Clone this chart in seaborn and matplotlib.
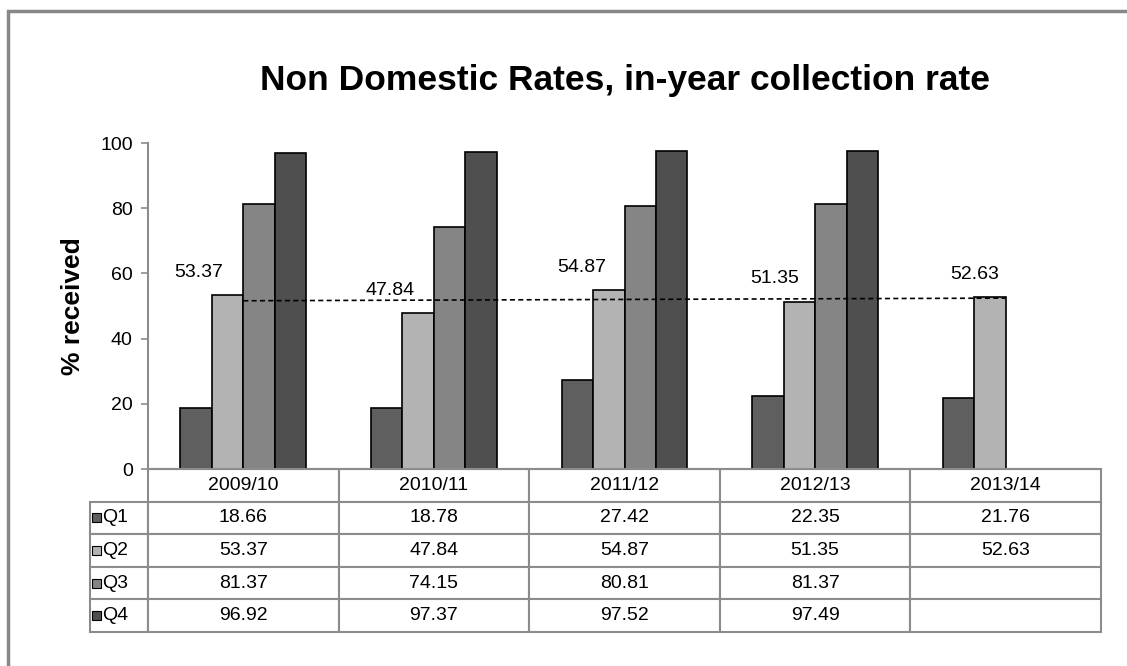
import numpy as np
import pandas as pd
import seaborn as sns
import matplotlib.pyplot as plt
from matplotlib.patches import Rectangle

# Datos del grafico
anios = ['2009/10', '2010/11', '2011/12', '2012/13', '2013/14']
trimestres = ['Q1', 'Q2', 'Q3', 'Q4']
q1 = [18.66, 18.78, 27.42, 22.35, 21.76]
q2 = [53.37, 47.84, 54.87, 51.35, 52.63]
q3 = [81.37, 74.15, 80.81, 81.37, np.nan]
q4 = [96.92, 97.37, 97.52, 97.49, np.nan]

colores = ['#5f5f5f', '#b3b3b3', '#858585', '#4f4f4f']
gris_linea = '#8c8c8c'

sns.set_theme(style='white')
plt.rcParams['font.family'] = ['Liberation Sans', 'DejaVu Sans']
plt.rcParams['text.color'] = 'black'
plt.rcParams['axes.labelcolor'] = 'black'
plt.rcParams['ytick.labelcolor'] = 'black'

# Armo el dataframe en formato largo para seaborn
filas = []
for serie, nombre in zip([q1, q2, q3, q4], trimestres):
    for anio, valor in zip(anios, serie):
        filas.append({'anio': anio, 'trimestre': nombre, 'valor': valor})
datos = pd.DataFrame(filas)

W, H = 1127, 666
fig = plt.figure(figsize=(W / 100, H / 100), dpi=100)
ax = fig.add_axes([148 / W, (H - 469) / H, 953 / W, 326 / H])

sns.barplot(data=datos, x='anio', y='valor', hue='trimestre', order=anios,
            hue_order=trimestres, palette=colores, width=0.66, errorbar=None,
            edgecolor='black', linewidth=1.2, saturation=1, legend=False, ax=ax)

ax.set_ylim(0, 100)
ax.set_xlim(-0.5, len(anios) - 0.5)
ax.set_yticks(range(0, 101, 20))
ax.tick_params(axis='y', labelsize=14, length=5, width=1.2, color=gris_linea,
               left=True, pad=6, labelcolor='black')
ax.tick_params(axis='x', bottom=False, labelbottom=False)
ax.set_xlabel('')
ax.set_ylabel('% received', fontsize=19, fontweight='bold', labelpad=11,
              color='black')
for lado in ['top', 'right']:
    ax.spines[lado].set_visible(False)
for lado in ['left', 'bottom']:
    ax.spines[lado].set_color(gris_linea)
    ax.spines[lado].set_linewidth(1.5)

# Linea de tendencia (lineal) sobre Q2
x_pos = np.arange(len(anios))
pendiente, intercepto = np.polyfit(x_pos + 1, q2, 1)
ax.plot(x_pos, pendiente * (x_pos + 1) + intercepto, color='black',
        linestyle=(0, (3, 2)), linewidth=1.2, zorder=5)

# Etiquetas de Q2
desplazamiento_x = [-0.15, -0.15, -0.14, -0.13, -0.08]
ancho_barra = 0.66 / 4
for i, valor in enumerate(q2):
    ax.text(i - ancho_barra / 2 + desplazamiento_x[i], valor + 7, f'{valor:.2f}',
            ha='center', va='center', fontsize=14, color='black')

ax.set_title('Non Domestic Rates, in-year collection rate', fontsize=25.5,
             fontweight='bold', pad=38, color='black')

# Tabla de datos debajo del grafico
def fmt(v):
    return '' if np.isnan(v) else f'{v:.2f}'

texto_celdas = [[''] + anios]
for nombre, serie in zip(trimestres, [q1, q2, q3, q4]):
    texto_celdas.append([nombre] + [fmt(v) for v in serie])

ancho_rotulo = 58 / 953
tabla = ax.table(cellText=texto_celdas, cellLoc='center',
                 colWidths=[ancho_rotulo] + [1 / len(anios)] * len(anios),
                 bbox=[-ancho_rotulo, -0.5, 1 + ancho_rotulo, 0.5])
tabla.auto_set_font_size(False)
tabla.set_fontsize(14)
for (fila, col), celda in tabla.get_celld().items():
    celda.set_edgecolor(gris_linea)
    celda.set_linewidth(1.5)
    celda.get_text().set_color('black')
    if fila == 0 and col == 0:
        celda.visible_edges = ''
    if col == 0 and fila > 0:
        celda.get_text().set_ha('left')
        celda._loc = 'left'
        celda.PAD = 0.21

# Cuadritos de leyenda en la tabla
alto_fila = 0.5 / 5
for k, color in enumerate(colores):
    yc = -alto_fila * (k + 1.5)
    ax.add_patch(Rectangle((-ancho_rotulo + 0.0025, yc - 0.014), 0.009, 0.028,
                           transform=ax.transAxes, facecolor=color,
                           edgecolor='black', linewidth=0.8, clip_on=False))

# Marco exterior del grafico
fig.patches.append(Rectangle((8 / W, -0.05), 1.2, (H - 11) / H + 0.05,
                             transform=fig.transFigure, fill=False,
                             edgecolor='#888888', linewidth=2.5))

fig.savefig('out.png', dpi=100)
